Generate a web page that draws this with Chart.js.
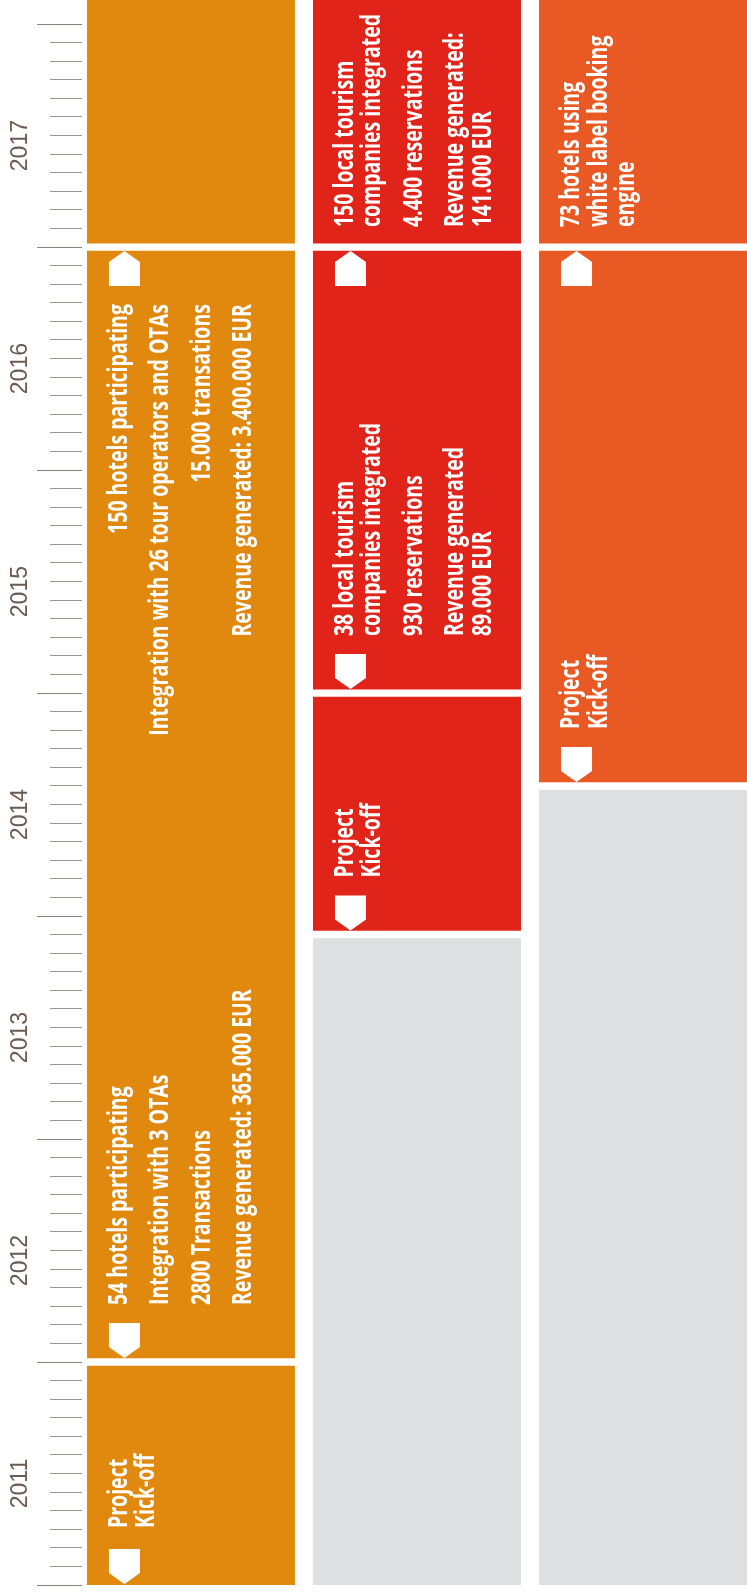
<!DOCTYPE html>
<html>
<head>
<meta charset="utf-8">
<script src="https://cdn.jsdelivr.net/npm/chart.js@4/dist/chart.umd.min.js"></script>
<style>
  html, body { margin: 0; padding: 0; background: #ffffff; overflow: hidden; }
  #wrap { position: relative; width: 747px; height: 1595px; }
</style>
</head>
<body>
<div id="wrap"><canvas id="chart"></canvas></div>
<script>
// ---------- data ----------
const AXIS_START = 2011;
const AXIS_END = 2018.108;           // top of the visible timeline (cropped)
const tracks = ['Hotels', 'Local tourism companies', 'White label booking engine'];
const yearLabels = ['2011', '2012', '2013', '2014', '2015', '2016', '2017'];

const hotelsSegments     = [[2011, 2012], [2012, 2017], [2017, 2018.108]];
const tourismSegments    = [[2013.917, 2015], [2015, 2017], [2017, 2018.108]];
const whiteLabelSegments = [[2014.583, 2017], [2017, 2018.108]];
const notStartedTracks   = [1, 2];
const notStartedSegments = [[2011, 2013.917], [2011, 2014.583]];

const markerTrack = [0, 0, 0, 1, 1, 1, 2, 2];
const markerYear  = [2011, 2012, 2017, 2013.917, 2015, 2017, 2014.583, 2017];
const markerDir   = ['down', 'down', 'up', 'down', 'down', 'up', 'down', 'up'];

const noteTrack  = [0, 0, 0, 1, 1, 1, 2, 2];
const noteYear   = [2011, 2012, 2017, 2013.917, 2015, 2017, 2014.583, 2017];
const noteSide   = ['above', 'above', 'below', 'above', 'above', 'above', 'above', 'above'];
const noteMarked = [true, true, true, true, true, false, true, false];
const noteText = [
  [['Project', 'Kick-off']],
  [['54 hotels participating'], ['Integration with 3 OTAs'], ['2800 Transactions'], ['Revenue generated: 365.000 EUR']],
  [['150 hotels participating'], ['Integration with 26 tour operators and OTAs'], ['15.000 transations'], ['Revenue generated: 3.400.000 EUR']],
  [['Project', 'Kick-off']],
  [['38 local tourism', 'companies integrated'], ['930 reservations'], ['Revenue generated', '89.000 EUR']],
  [['150 local tourism', 'companies integrated'], ['4.400 reservations'], ['Revenue generated:', '141.000 EUR']],
  [['Project', 'Kick-off']],
  [['73 hotels using', 'white label booking', 'engine']]
];

// ---------- style ----------
const BAR_W = 208;
const GAP = 4;
const LABEL_POS = 0.455;
const COLORS = ['#E1890F', '#E0241A', '#E85924'];
const GREY = '#DEDFE1';
const NOTE_FONT = '700 26px "Open Sans", "DejaVu Sans", sans-serif';
const CONDENSE = 0.75;
const LINE_H = 27.5;
const PARA_GAP = 14;

function borderFor(c) {
  const r = c.raw;
  if (!r) return 0;
  return { top: r.y[1] >= AXIS_END ? 0 : GAP, bottom: r.y[0] <= AXIS_START ? 0 : GAP, left: 0, right: 0 };
}

const common = {
  grouped: false,
  barThickness: BAR_W,
  maxBarThickness: BAR_W,
  borderColor: '#ffffff',
  borderSkipped: false,
  borderWidth: borderFor,
  borderRadius: 0
};

const datasets = [
  Object.assign({ label: tracks[0], data: hotelsSegments.map(r => ({ x: 0, y: r })), backgroundColor: COLORS[0] }, common),
  Object.assign({ label: tracks[1], data: tourismSegments.map(r => ({ x: 1, y: r })), backgroundColor: COLORS[1] }, common),
  Object.assign({ label: tracks[2], data: whiteLabelSegments.map(r => ({ x: 2, y: r })), backgroundColor: COLORS[2] }, common),
  Object.assign({ label: 'Not started', data: notStartedSegments.map((r, i) => ({ x: notStartedTracks[i], y: r })), backgroundColor: GREY }, common)
];

const notesPlugin = {
  id: 'notes',
  afterDatasetsDraw(chart) {
    const ctx = chart.ctx;
    const xs = chart.scales.x, ys = chart.scales.y;
    ctx.save();
    ctx.fillStyle = '#ffffff';
    // markers
    markerTrack.forEach((t, i) => {
      const left = xs.getPixelForValue(t) - BAR_W / 2 + 22;
      const w = 31, cx = left + w / 2;
      const py = ys.getPixelForValue(markerYear[i]);
      ctx.beginPath();
      if (markerDir[i] === 'down') {
        const tip = py - (markerYear[i] <= AXIS_START ? 1 : GAP);
        ctx.moveTo(left, tip - 35); ctx.lineTo(left + w, tip - 35);
        ctx.lineTo(left + w, tip - 11); ctx.lineTo(cx, tip); ctx.lineTo(left, tip - 11);
      } else {
        const tip = py + GAP;
        ctx.moveTo(left, tip + 35); ctx.lineTo(left + w, tip + 35);
        ctx.lineTo(left + w, tip + 11); ctx.lineTo(cx, tip); ctx.lineTo(left, tip + 11);
      }
      ctx.closePath();
      ctx.fill();
    });
    // texts
    ctx.font = NOTE_FONT;
    ctx.textBaseline = 'alphabetic';
    noteTrack.forEach((t, i) => {
      const barLeft = xs.getPixelForValue(t) - BAR_W / 2;
      const py = ys.getPixelForValue(noteYear[i]);
      const off = noteMarked[i] ? 57 : 20;
      const ay = noteSide[i] === 'above' ? py - off : py + off;
      let bx = barLeft + 40;
      let first = true;
      noteText[i].forEach((para, pi) => {
        if (pi > 0) bx += PARA_GAP;
        para.forEach(line => {
          if (!first) bx += LINE_H;
          first = false;
          ctx.save();
          ctx.translate(bx, ay);
          ctx.rotate(-Math.PI / 2);
          ctx.scale(CONDENSE, 1);
          ctx.textAlign = noteSide[i] === 'above' ? 'left' : 'right';
          ctx.fillText(line, 0, 0);
          ctx.restore();
        });
      });
    });
    ctx.restore();
  }
};

const chart = new Chart(document.getElementById('chart'), {
  type: 'bar',
  data: { datasets },
  options: {
    responsive: true,
    maintainAspectRatio: false,
    animation: false,
    events: [],
    layout: { padding: { left: 0, right: 0, top: 0, bottom: 10 } },
    plugins: { legend: { display: false }, tooltip: { enabled: false } },
    scales: {
      x: {
        type: 'linear',
        min: -0.482,
        max: 2.46,
        offset: false,
        display: false,
        afterBuildTicks: s => { s.ticks = tracks.map((_, i) => ({ value: i })); }
      },
      y: {
        type: 'linear',
        position: 'left',
        min: AXIS_START,
        max: AXIS_END,
        afterBuildTicks: s => {
          const t = [];
          const months = (Math.floor(AXIS_END) - AXIS_START) * 12;
          for (let m = 0; m <= months; m++) t.push({ value: AXIS_START + m / 12, long: m % 12 === 0 });
          yearLabels.forEach(l => t.push({ value: Number(l) + LABEL_POS, yearLabel: l }));
          s.ticks = t;
        },
        afterFit: s => { s.width = 82; s.paddingTop = 0; s.paddingBottom = 0; },
        border: { display: false },
        grid: {
          display: true,
          drawOnChartArea: false,
          drawTicks: true,
          tickLength: 45,
          tickWidth: 1,
          tickColor: c => (c.tick && c.tick.yearLabel) ? 'rgba(0,0,0,0)' : (c.tick && c.tick.long ? '#8c7f77' : '#a0968f'),
          tickBorderDash: [45, 3000],
          tickBorderDashOffset: c => (c.tick && c.tick.long) ? 0 : 3032
        },
        ticks: {
          autoSkip: false,
          minRotation: 90,
          maxRotation: 90,
          crossAlign: 'center',
          padding: -9,
          color: '#6b5b50',
          font: { family: '"Liberation Sans", Arial, sans-serif', size: 23 },
          callback: (v, i, ticks) => ticks[i].yearLabel || ''
        }
      }
    }
  },
  plugins: [notesPlugin]
});

if (document.fonts && document.fonts.ready) {
  document.fonts.ready.then(() => chart.update());
}
</script>
</body>
</html>
